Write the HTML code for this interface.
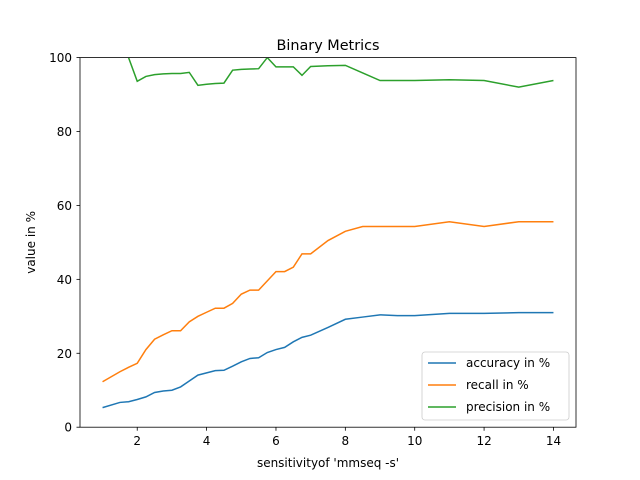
<!DOCTYPE html>
<html><head><meta charset="utf-8"><style>body{margin:0;background:#fff}svg{display:block;font-family:"DejaVu Sans","Liberation Sans",sans-serif}</style></head>
<body>
<svg id="chart" width="640" height="480" viewBox="0 0 640 480" xmlns="http://www.w3.org/2000/svg">
<defs><clipPath id="clip"><rect x="80" y="57.6" width="496" height="369.6"/></clipPath></defs>
<rect width="640" height="480" fill="#fff"/>
<text x="328" y="50" font-size="14.4" text-anchor="middle">Binary Metrics</text>
<g id="plot" clip-path="url(#clip)"></g>
<g id="axes"></g>
<rect x="80" y="57.6" width="496" height="369.6" fill="none" stroke="#000" stroke-width="0.8"/>
<text x="328" y="467" font-size="12" text-anchor="middle">sensitivityof 'mmseq -s'</text>
<text x="0" y="0" font-size="12" text-anchor="middle" transform="translate(35,242.4) rotate(-90)">value in %</text>
<g>
<rect x="422" y="352" width="147" height="68" rx="3" fill="#fff" fill-opacity="0.8" stroke="#ccc" stroke-width="0.8"/>
<line x1="428" y1="363" x2="456" y2="363" stroke="#1f77b4" stroke-width="1.5"/>
<text x="466" y="367" font-size="12">accuracy in %</text>
<line x1="428" y1="385" x2="456" y2="385" stroke="#ff7f0e" stroke-width="1.5"/>
<text x="466" y="389" font-size="12">recall in %</text>
<line x1="428" y1="407" x2="456" y2="407" stroke="#2ca02c" stroke-width="1.5"/>
<text x="466" y="411" font-size="12">precision in %</text>
</g>
</svg>
<script>
const sensitivity=[1,1.5,1.75,2,2.25,2.5,2.75,3,3.25,3.5,3.75,4,4.25,4.5,4.75,5,5.25,5.5,5.75,6,6.25,6.5,6.75,7,7.5,8,8.5,9,9.5,10,11,12,13,14];
const accuracy=[5.3,6.7,6.9,7.5,8.2,9.4,9.8,10.0,10.9,12.5,14.1,14.7,15.3,15.4,16.5,17.7,18.6,18.8,20.2,21.0,21.6,23.1,24.3,24.9,27.0,29.2,29.8,30.4,30.2,30.2,30.8,30.8,31.0,31.0];
const recall=[12.3,15.0,16.2,17.3,21.0,23.8,25.0,26.1,26.1,28.5,30.0,31.1,32.2,32.2,33.5,36.0,37.1,37.1,39.6,42.1,42.1,43.3,46.9,46.9,50.5,53.0,54.3,54.3,54.3,54.3,55.6,54.3,55.6,55.6];
const precision=[106,103,100,93.6,94.9,95.4,95.6,95.7,95.7,96.0,92.5,92.8,93.0,93.1,96.6,96.8,96.9,97.0,100,97.5,97.5,97.5,95.2,97.6,97.8,97.9,95.85,93.8,93.8,93.8,94.0,93.8,92.0,93.8];
const xTicks=[2,4,6,8,10,12,14];
const yTicks=[0,20,40,60,80,100];
const NS="http://www.w3.org/2000/svg";
const xmin=0.35,xmax=14.65;
function X(v){return 80+(v-xmin)/(xmax-xmin)*496;}
function Y(v){return 427.2-v/100*369.6;}
const plot=document.getElementById('plot'),axes=document.getElementById('axes');
function line(vals,color,name){
  const p=document.createElementNS(NS,'polyline');
  p.setAttribute('points',vals.map((v,i)=>X(sensitivity[i])+','+Y(v)).join(' '));
  p.setAttribute('fill','none');p.setAttribute('stroke',color);p.setAttribute('stroke-width','1.5');
  
  
  plot.appendChild(p);
}
line(accuracy,'#1f77b4','accuracy-line');
line(recall,'#ff7f0e','recall-line');
line(precision,'#2ca02c','precision-line');
xTicks.forEach(t=>{
  const l=document.createElementNS(NS,'line');
  l.setAttribute('x1',X(t));l.setAttribute('x2',X(t));l.setAttribute('y1',427.2);l.setAttribute('y2',430.7);l.setAttribute('stroke','#000');l.setAttribute('stroke-width','0.8');
  
  
  axes.appendChild(l);
  const s=document.createElementNS(NS,'text');
  s.setAttribute('x',X(t));s.setAttribute('y',445);s.setAttribute('font-size','12');s.setAttribute('text-anchor','middle');s.textContent=t;
  
  
  axes.appendChild(s);
});
yTicks.forEach(t=>{
  const l=document.createElementNS(NS,'line');
  l.setAttribute('x1',76.5);l.setAttribute('x2',80);l.setAttribute('y1',Y(t));l.setAttribute('y2',Y(t));l.setAttribute('stroke','#000');l.setAttribute('stroke-width','0.8');
  
  
  axes.appendChild(l);
  const s=document.createElementNS(NS,'text');
  s.setAttribute('x',72);s.setAttribute('y',Y(t)+4.5);s.setAttribute('font-size','12');s.setAttribute('text-anchor','end');s.textContent=t;
  
  
  axes.appendChild(s);
});
</script>
</body></html>
